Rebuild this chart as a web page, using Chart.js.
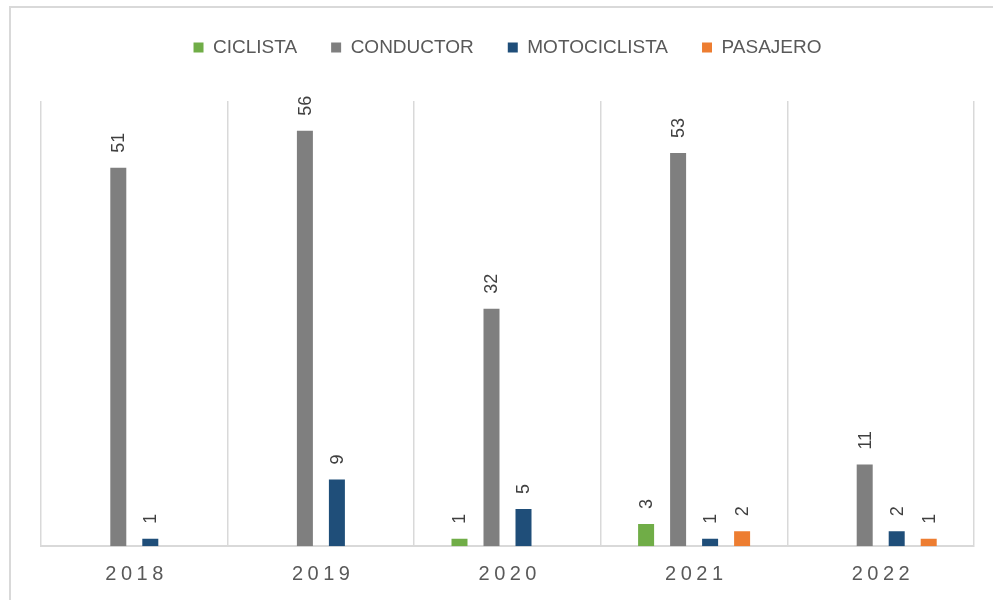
<!DOCTYPE html>
<html lang="es">
<head>
<meta charset="utf-8">
<title>Víctimas por tipo de usuario</title>
<script src="https://cdn.jsdelivr.net/npm/chart.js@4/dist/chart.umd.min.js"></script>
<style>
    html, body { margin: 0; padding: 0; background: #ffffff; overflow: hidden; }
    #marco {
        position: absolute; left: 9px; top: 6px;
        width: 1100px; height: 700px;
        border: 2px solid #d9d9d9;
    }
    #wrap { position: absolute; left: 0; top: 0; width: 993px; height: 600px; }
</style>
</head>
<body>
<div id="marco"></div>
<div id="wrap"><canvas id="grafico" width="993" height="600"></canvas></div>
<script>
// Datos del gráfico
const years = ['2018', '2019', '2020', '2021', '2022'];
const ciclista = [null, null, 1, 3, null];
const conductor = [51, 56, 32, 53, 11];
const motociclista = [1, 9, 5, 1, 2];
const pasajero = [null, null, null, 2, 1];
const seriesNames = ['CICLISTA', 'CONDUCTOR', 'MOTOCICLISTA', 'PASAJERO'];
const seriesColors = ['#70AD47', '#7F7F7F', '#1F4E79', '#ED7D31'];
const yMax = 60;

const FONT = "'Liberation Sans', Arial, sans-serif";

// Etiquetas de datos rotadas encima de cada barra
const etiquetasPlugin = {
    id: 'etiquetas',
    afterDatasetsDraw(chart) {
        const ctx = chart.ctx;
        ctx.save();
        ctx.font = '18px ' + FONT;
        ctx.fillStyle = '#404040';
        ctx.textAlign = 'left';
        ctx.textBaseline = 'middle';
        chart.data.datasets.forEach((ds, i) => {
            const meta = chart.getDatasetMeta(i);
            meta.data.forEach((bar, j) => {
                const v = ds.data[j];
                if (v === null || v === undefined) return;
                ctx.save();
                ctx.translate(bar.x + 1, bar.y - 15);
                ctx.rotate(-Math.PI / 2);
                ctx.fillText(String(v), 0, 0);
                ctx.restore();
            });
        });
        ctx.restore();
    },
    // Años del eje X con espaciado entre letras
    afterDraw(chart) {
        const ctx = chart.ctx;
        const xScale = chart.scales.x;
        const spacing = 4.5;
        ctx.save();
        ctx.font = '20px ' + FONT;
        ctx.fillStyle = '#595959';
        ctx.textAlign = 'center';
        ctx.textBaseline = 'middle';
        if ('letterSpacing' in ctx) ctx.letterSpacing = spacing + 'px';
        years.forEach((y, i) => {
            const x = xScale.getPixelForValue(i);
            ctx.fillText(y, x + spacing / 2, xScale.top + 28);
        });
        ctx.restore();
    }
};

// Ajustar la altura de la leyenda para bajar el área del gráfico
const leyendaAltura = {
    id: 'leyendaAltura',
    beforeInit(chart) {
        const legend = chart.legend;
        if (!legend) return;
        const fitOriginal = legend.fit;
        legend.fit = function () {
            fitOriginal.bind(legend)();
            this.height = 97;
        };
    }
};

const ctx = document.getElementById('grafico');
new Chart(ctx, {
    type: 'bar',
    data: {
        labels: years,
        datasets: [ciclista, conductor, motociclista, pasajero].map((serie, i) => ({
            label: seriesNames[i],
            data: serie,
            backgroundColor: seriesColors[i],
            borderWidth: 0,
            categoryPercentage: 0.686,
            barPercentage: 0.5
        }))
    },
    options: {
        responsive: false,
        animation: false,
        devicePixelRatio: 1,
        layout: {
            padding: { left: 41, right: 19, top: 4, bottom: 11 }
        },
        plugins: {
            legend: {
                position: 'top',
                labels: {
                    color: '#595959',
                    font: { family: FONT, size: 19 },
                    boxWidth: 10,
                    boxHeight: 10,
                    padding: 34
                }
            },
            tooltip: { enabled: false }
        },
        scales: {
            x: {
                grid: {
                    display: true,
                    offset: true,
                    color: '#d9d9d9',
                    lineWidth: 1.5,
                    drawTicks: false,
                    tickLength: 0
                },
                border: { display: true, color: '#d9d9d9', width: 2 },
                ticks: {
                    color: 'transparent',
                    font: { family: FONT, size: 19 },
                    padding: 10
                }
            },
            y: {
                display: false,
                min: 0,
                max: yMax
            }
        }
    },
    plugins: [etiquetasPlugin, leyendaAltura]
});
</script>
</body>
</html>
